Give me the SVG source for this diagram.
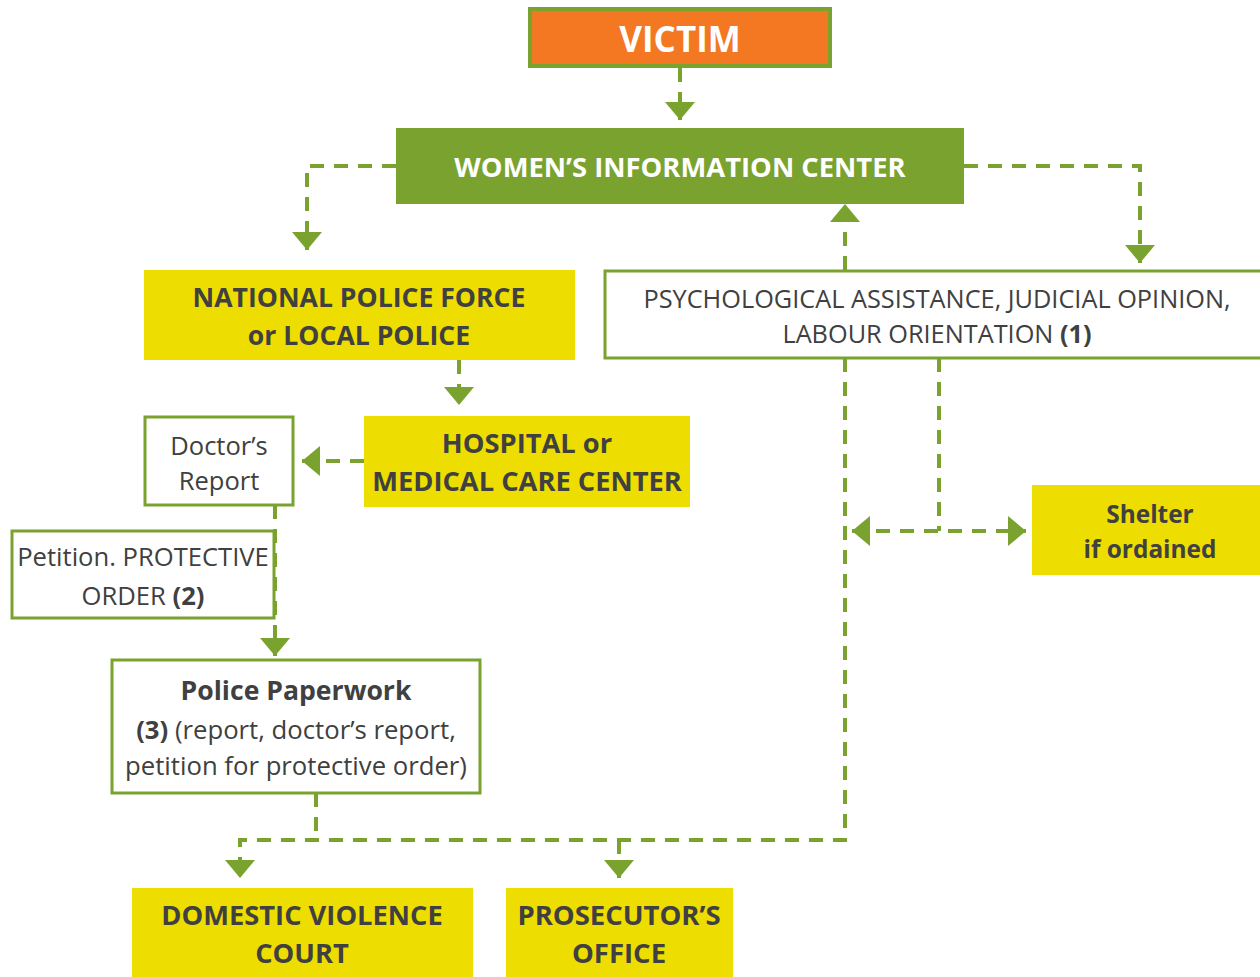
<svg xmlns="http://www.w3.org/2000/svg" width="1260" height="977" viewBox="0 0 1260 977">
<style>
.t{font-family:"Open Sans","Liberation Sans",sans-serif;fill:#404040;text-anchor:middle}
.b{font-weight:700}
.w{fill:#ffffff}
.yel{fill:#EEDD00}
.box{fill:#ffffff;stroke:#7AA22F;stroke-width:3}
.c{fill:none;stroke:#7AA22F;stroke-width:4;stroke-dasharray:14 10}
</style>
<defs>
<marker id="ah" viewBox="0 0 18 30" markerWidth="18" markerHeight="30" refX="18" refY="15" orient="auto-start-reverse" markerUnits="userSpaceOnUse">
<path d="M0,0 L18,15 L0,30 z" fill="#7AA22F"/>
</marker>
</defs>
<rect width="1260" height="977" fill="#ffffff"/>
<g id="connectors">
<path class="c" d="M680 68 V120" marker-end="url(#ah)"/>
<path class="c" d="M396 166 H307 V250" marker-end="url(#ah)"/>
<path class="c" d="M964 166 H1140 V263" marker-end="url(#ah)"/>
<path class="c" d="M845 270 V204" marker-end="url(#ah)"/>
<path class="c" d="M459 360 V405" marker-end="url(#ah)"/>
<path class="c" d="M364 461 H302" marker-end="url(#ah)"/>
<path class="c" d="M275 505 V656" marker-end="url(#ah)"/>
<path class="c" d="M316 793 V840"/>
<path class="c" d="M845 358 V840 H240 V878" marker-end="url(#ah)"/>
<path class="c" d="M619 840 V878" marker-end="url(#ah)"/>
<path class="c" d="M939 358 V531"/>
<path class="c" d="M852 531 H1026" marker-start="url(#ah)" marker-end="url(#ah)"/>
</g>
<g id="victim">
<rect x="530" y="9" width="300" height="57" fill="#F47721" stroke="#7AA22F" stroke-width="4"/>
<text class="t b w" x="680" y="52" font-size="35">VICTIM</text>
</g>
<g id="wic">
<rect x="396" y="128" width="568" height="76" fill="#7AA22F"/>
<text class="t b w" x="680" y="177" font-size="27.4">WOMEN’S INFORMATION CENTER</text>
</g>
<g id="police">
<rect class="yel" x="144" y="270" width="431" height="90"/>
<text class="t b" x="359" y="307" font-size="26.6">NATIONAL POLICE FORCE</text>
<text class="t b" x="359" y="345" font-size="26.6">or LOCAL POLICE</text>
</g>
<g id="psych">
<rect class="box" x="605" y="271" width="660" height="87"/>
<text class="t" x="937" y="308" font-size="25.3">PSYCHOLOGICAL ASSISTANCE, JUDICIAL OPINION,</text>
<text class="t" x="937" y="343" font-size="25.3">LABOUR ORIENTATION <tspan class="b">(1)</tspan></text>
</g>
<g id="hospital">
<rect class="yel" x="364" y="416" width="326" height="91"/>
<text class="t b" x="527" y="453" font-size="27.3">HOSPITAL or</text>
<text class="t b" x="527" y="491" font-size="27.3">MEDICAL CARE CENTER</text>
</g>
<g id="doctor">
<rect class="box" x="145" y="417" width="148" height="88"/>
<text class="t" x="219" y="455" font-size="25.5">Doctor’s</text>
<text class="t" x="219" y="490" font-size="25.5">Report</text>
</g>
<g id="petition">
<rect class="box" x="12" y="531" width="262" height="87"/>
<text class="t" x="143" y="566" font-size="25.6">Petition. PROTECTIVE</text>
<text class="t" x="143" y="605" font-size="25.6">ORDER <tspan class="b">(2)</tspan></text>
</g>
<g id="paperwork">
<rect class="box" x="112" y="660" width="368" height="133"/>
<text class="t b" x="296" y="700" font-size="26.6">Police Paperwork</text>
<text class="t" x="296" y="739" font-size="25.7"><tspan class="b">(3)</tspan> (report, doctor’s report,</text>
<text class="t" x="296" y="775" font-size="25.7">petition for protective order)</text>
</g>
<g id="shelter">
<rect class="yel" x="1032" y="485" width="228" height="90"/>
<text class="t b" x="1150" y="523" font-size="24.4">Shelter</text>
<text class="t b" x="1150" y="558" font-size="24.4">if ordained</text>
</g>
<g id="court">
<rect class="yel" x="132" y="888" width="341" height="89"/>
<text class="t b" x="302" y="925" font-size="27.3">DOMESTIC VIOLENCE</text>
<text class="t b" x="302" y="963" font-size="27.3">COURT</text>
</g>
<g id="prosecutor">
<rect class="yel" x="506" y="888" width="227" height="89"/>
<text class="t b" x="619" y="925" font-size="27.5">PROSECUTOR’S</text>
<text class="t b" x="619" y="963" font-size="27.5">OFFICE</text>
</g>
</svg>
